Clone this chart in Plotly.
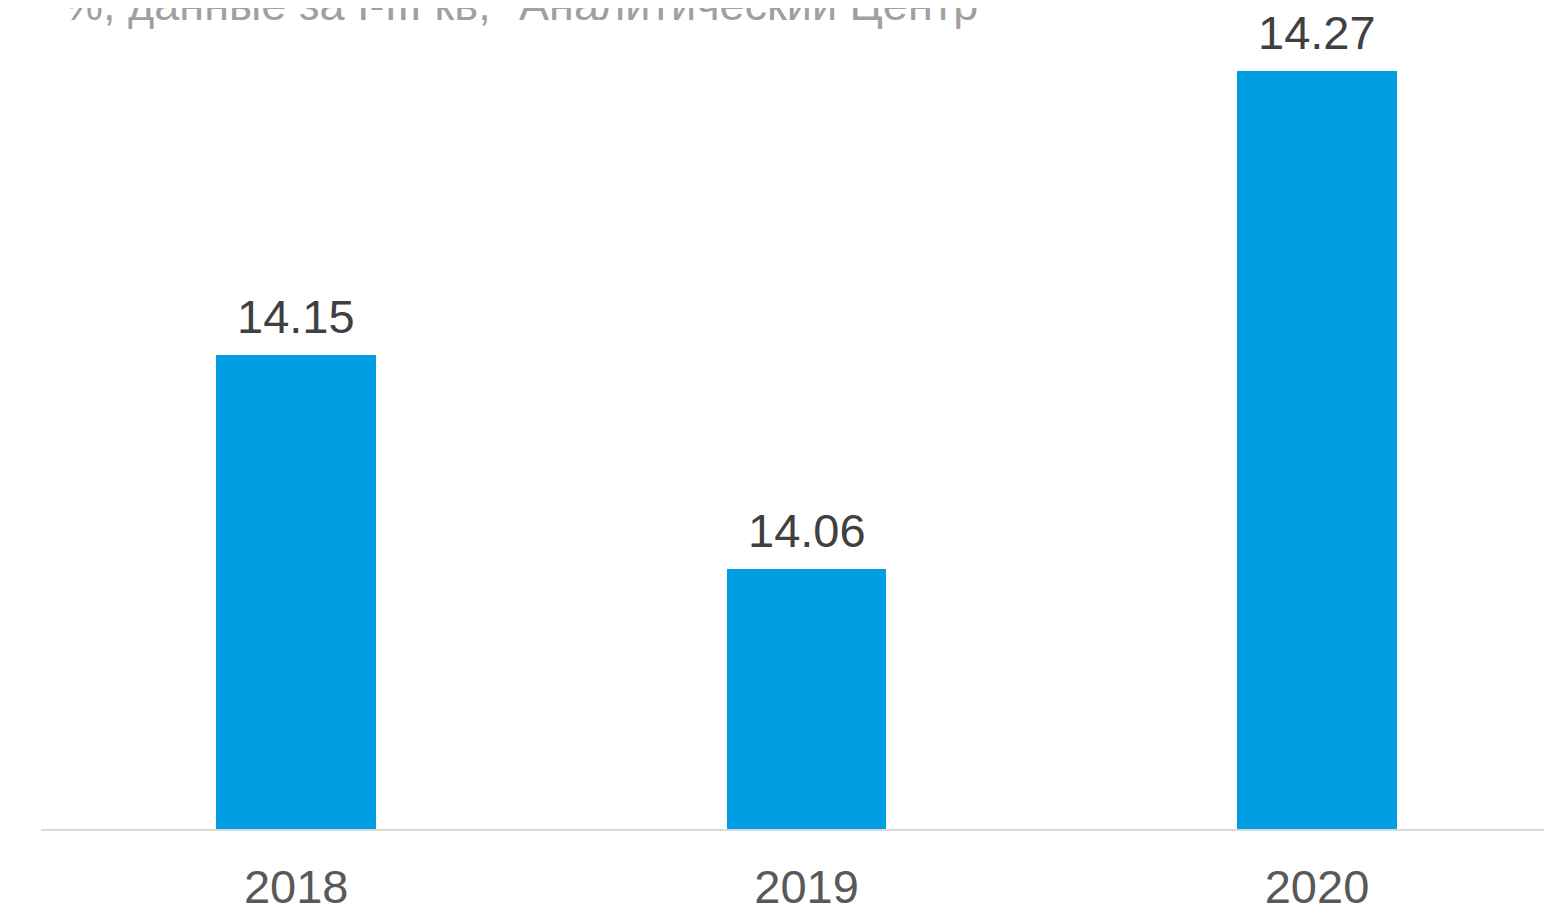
import plotly.graph_objects as go

years = ["2018", "2019", "2020"]
values = [14.15, 14.06, 14.27]
value_labels = ["14.15", "14.06", "14.27"]
title_text = '%, данные за I-III кв, "Аналитический Центр"'

fig = go.Figure(go.Bar(
    x=years, y=values, width=0.313,
    marker=dict(color="#009FE3", line=dict(width=0)),
    hoverinfo="x+y",
))

for i, (v, lab) in enumerate(zip(values, value_labels)):
    fig.add_annotation(
        x=i, y=v, text=lab, xref="x", yref="y",
        xanchor="center", yanchor="bottom", yshift=10, showarrow=False,
        font=dict(family="Liberation Sans, Arial", size=47, color="#404040"),
    )

fig.add_annotation(
    text=title_text, xref="paper", yref="paper", x=0.0135, y=1.059,
    xanchor="left", yanchor="middle", showarrow=False,
    font=dict(family="Liberation Sans, Arial", size=45, color="#a0a0a0"),
)

fig.update_layout(
    width=1544, height=899,
    margin=dict(l=33, r=0, t=42, b=78),
    paper_bgcolor="white", plot_bgcolor="white",
    showlegend=False,
    bargap=0,
    font=dict(family="Liberation Sans, Arial"),
)
fig.update_xaxes(
    type="category", range=[-0.5, 2.4604], automargin=False,
    showline=True, linecolor="#d9d9d9", linewidth=1.5,
    ticks="", ticklabelstandoff=16,
    tickfont=dict(family="Liberation Sans, Arial", size=47, color="#595959"),
    showgrid=False, zeroline=False, fixedrange=True,
)
fig.update_yaxes(
    range=[13.95, 14.279], visible=False, showgrid=False, zeroline=False,
    automargin=False,
)

fig.write_html("out.html")
